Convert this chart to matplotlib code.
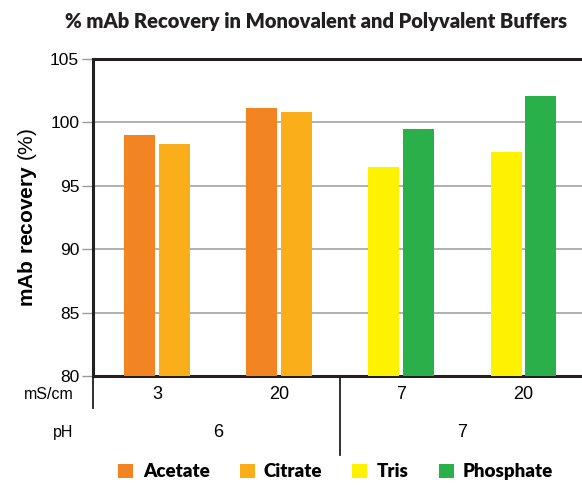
import numpy as np
import matplotlib.pyplot as plt
from matplotlib.patches import Patch
from matplotlib.lines import Line2D

# data
conductivity = ["3", "20", "7", "20"]
ph_labels = ["6", "7"]
buffers = ["Acetate", "Citrate", "Tris", "Phosphate"]
acetate = [99.0, 101.1, np.nan, np.nan]
citrate = [98.3, 100.8, np.nan, np.nan]
tris = [np.nan, np.nan, 96.5, 97.7]
phosphate = [np.nan, np.nan, 99.5, 102.1]

colors = {"Acetate": "#F28522", "Citrate": "#F9AE1A", "Tris": "#FFF200", "Phosphate": "#2AB04A"}
series = {"Acetate": acetate, "Citrate": citrate, "Tris": tris, "Phosphate": phosphate}
offsets = {"Acetate": -0.143, "Citrate": 0.143, "Tris": -0.143, "Phosphate": 0.143}

plt.rcParams['font.family'] = ['Liberation Sans', 'DejaVu Sans']
plt.rcParams['mathtext.fontset'] = 'custom'
plt.rcParams['mathtext.rm'] = 'Liberation Sans'
plt.rcParams['mathtext.bf'] = 'Liberation Sans:bold'

fig = plt.figure(figsize=(5.82, 4.87), dpi=100)
ax = fig.add_axes([0.160, 0.228, 0.840, 0.651])

x = np.arange(len(conductivity))
w = 0.254
for b in buffers:
    ax.bar(x + offsets[b], series[b], w, bottom=0, color=colors[b], zorder=3)

ax.set_ylim(80, 105)
ax.set_xlim(-0.524, 3.479)
ax.set_yticks(np.arange(80, 106, 5))
ax.tick_params(axis='y', labelsize=12.5, length=8, width=1, color='#999999', pad=2)
ax.set_xticks([])
ax.yaxis.grid(True, color='#aaaaaa', lw=1.3, zorder=0)

for s in ['left', 'bottom', 'top']:
    ax.spines[s].set_linewidth(2.2)
    ax.spines[s].set_color('#231f20')
ax.spines['right'].set_visible(False)

ax.set_ylabel(r"$\mathbf{mAb\ recovery}$ (%)", fontsize=15, labelpad=8)

# category labels under the axis
for xi, lab in zip(x, conductivity):
    ax.text(xi, -0.06, lab, transform=ax.get_xaxis_transform(), ha='center', va='center', fontsize=13)
for xi, lab in zip([0.5, 2.5], ph_labels):
    ax.text(xi, -0.177, lab, transform=ax.get_xaxis_transform(), ha='center', va='center', fontsize=13)
ax.text(-0.04, -0.06, "mS/cm", transform=ax.transAxes, ha='right', va='center', fontsize=11.5)
ax.text(-0.04, -0.177, "pH", transform=ax.transAxes, ha='right', va='center', fontsize=11.5)

ax.add_line(Line2D([-0.524, -0.524], [0, -0.10], transform=ax.get_xaxis_transform(),
                   color='#231f20', lw=1.3, clip_on=False))
ax.add_line(Line2D([1.5, 1.5], [0, -0.25], transform=ax.get_xaxis_transform(),
                   color='#231f20', lw=1.3, clip_on=False))

fig.text(0.543, 0.955, "% mAb Recovery in Monovalent and Polyvalent Buffers",
         ha='center', va='center', fontsize=14.5, fontweight='heavy', family='Lato', color='#231f20')

handles = [Patch(facecolor=colors[b], label=b) for b in buffers]
fig.legend(handles=handles, loc='center', bbox_to_anchor=(0.577, 0.031), ncol=4, frameon=False,
           handlelength=0.8, handleheight=0.8, handletextpad=0.5, columnspacing=1.6,
           prop={'family': 'Lato', 'weight': 'heavy', 'size': 13.5})

fig.savefig("out.png", dpi=100)
